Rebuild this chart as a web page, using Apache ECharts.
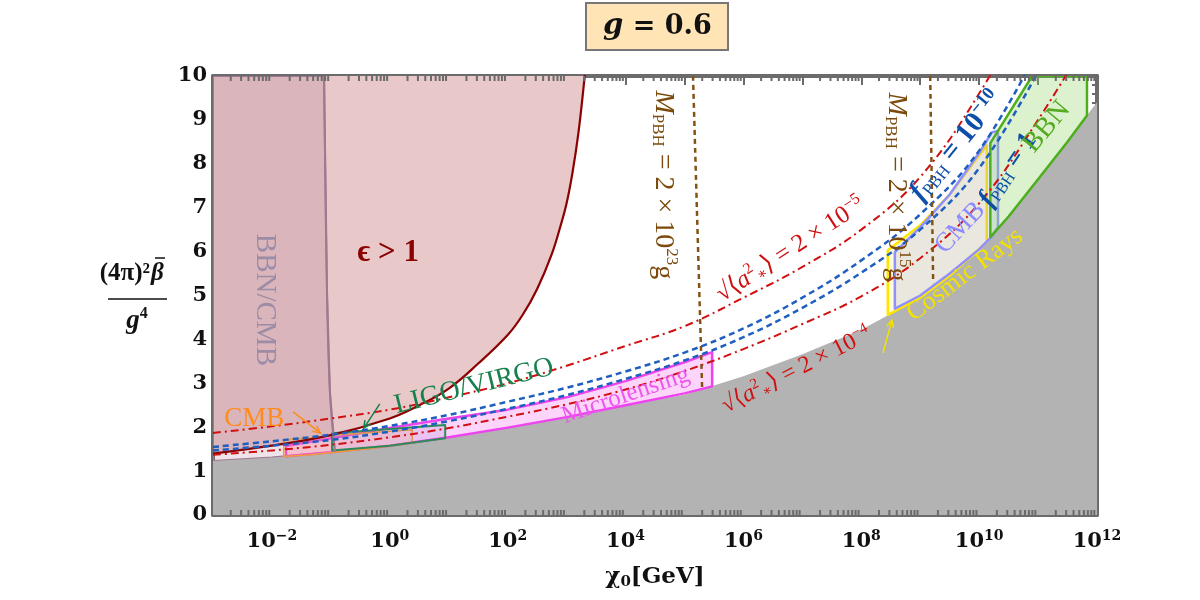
<!DOCTYPE html>
<html>
<head>
<meta charset="utf-8">
<script src="https://cdn.jsdelivr.net/npm/echarts@6/dist/echarts.min.js"></script>
<style>
  html, body { margin: 0; background: #fff; }
  #chart { width: 1200px; height: 600px; }
</style>
</head>
<body>
<div id="chart"></div>
<script>
const SERIF = '"Liberation Serif", "DejaVu Serif", serif';
const NUM = '"DejaVu Serif", "Liberation Serif", serif';

// x values are log10(chi0 / GeV)
const decades = [-3, -2, -1, 0, 1, 2, 3, 4, 5, 6, 7, 8, 9, 10, 11, 12];
const grayEdge = [1.23, 1.31, 1.42, 1.57, 1.76, 1.98, 2.22, 2.5, 2.74, 3.16, 3.66, 4.22, 4.95, 6.0, 7.65, 9.4];

// dash-dot (spin) and dashed (f_PBH) curves
const lineX = [-3, -2, -1, 0, 1, 2, 3, 4, 5, 6, 7, 8, 9, 10, 11];
const spin2e5 = [1.87, 2.02, 2.2, 2.4, 2.68, 3.0, 3.4, 3.85, 4.3, 4.95, 5.65, 6.5, 7.7, 9.6, 12.0];
const fpbh1e10 = [1.55, 1.68, 1.83, 2.03, 2.28, 2.58, 2.9, 3.27, 3.7, 4.25, 4.95, 5.8, 6.85, 8.3, 10.6];
const fpbh1 = [1.47, 1.58, 1.71, 1.9, 2.14, 2.42, 2.73, 3.1, 3.52, 4.05, 4.72, 5.52, 6.5, 7.9, 10.1];
const spin2e4 = [1.37, 1.47, 1.6, 1.77, 1.98, 2.24, 2.52, 2.86, 3.28, 3.78, 4.35, 4.98, 5.85, 7.1, 9.0, 11.2];

// epsilon > 1 boundary
const epsX = [-3, -2, -1, 0, 0.5, 1, 1.5, 2, 2.25, 2.5, 2.75, 2.9, 3.0, 3.1, 3.2, 3.3, 3.36];
const epsY = [1.4, 1.58, 1.82, 2.2, 2.5, 2.88, 3.45, 4.1, 4.55, 5.15, 5.95, 6.6, 7.1, 7.8, 8.7, 9.9, 10.7];

// BBN/CMB boundary (nearly vertical)
const bbnCmbX = [-1.116, -1.065, -1.015, -0.93];
const bbnCmbY = [10, 5.05, 2.78, 1.43];
const bbnCmbFloorX = [-3, -2, -1.5, -0.93];
const bbnCmbFloorY = [1.23, 1.31, 1.37, 1.43];

// microlensing band
const mlX = [-1.76, -1, 0, 1, 2, 3, 4, 5, 5.47];
const mlTop = [1.57, 1.75, 1.98, 2.2, 2.4, 2.68, 3.05, 3.48, 3.71];
const mlBot = [1.34, 1.43, 1.58, 1.77, 1.99, 2.23, 2.5, 2.77, 2.93];

// small CMB (orange) and LIGO/VIRGO boxes
const cmbLowX = [-1.8, -1.35, -0.93, -0.3, 0.38];
const cmbLowTop = [1.71, 1.76, 1.82, 1.88, 1.94];
const cmbLowBot = [1.33, 1.37, 1.43, 1.52, 1.64];
const ligoX = [-0.98, 0, 0.94];
const ligoTop = [1.86, 1.96, 2.05];
const ligoBot = [1.47, 1.58, 1.75];

// high-mass side: cosmic rays, CMB, BBN
const crX = [8.45, 9, 9.5, 10.13];
const crTop = [6.03, 6.6, 7.3, 8.42];
const crBot = [4.56, 4.95, 5.45, 6.22];
const cmbHiX = [8.57, 9, 9.5, 10, 10.22, 10.32];
const cmbHiTop = [5.99, 6.55, 7.3, 8.25, 8.72, 8.75];
const cmbHiBot = [4.7, 5.0, 5.5, 6.05, 6.35, 6.56];
const bbnX = [10.19, 10.9, 11.83];
const bbnTop = [8.47, 10, 10];
const bbnBotX = [10.19, 10.5, 11, 11.5, 11.83];
const bbnBot = [6.33, 6.8, 7.65, 8.5, 9.1];
const bbnRight = 9.16;

// M_PBH reference lines
const m23X = [5.145, 5.3];
const m23Y = [10, 2.87];
const m15X = [9.17, 9.22];
const m15Y = [10, 5.28];

// annotations: [x, y, rotationDeg, text, color, size, weight]
const labels = [
  [-2.12, 4.9, -90, '{t|BBN/CMB}', '#9d8ca6', 29, 'normal'],
  [-0.03, 5.97, 0, '{t|ϵ > 1}', '#8b0000', 31, 'bold'],
  [-2.3, 2.2, 0, '{t|CMB}', '#ff8c1a', 27, 'normal'],
  [1.43, 2.93, 14, '{t|LIGO/VIRGO}', '#18804c', 28, 'normal'],
  [4.0, 2.72, 19, '{t|Microlensing}', '#ee55ee', 25, 'normal'],
  [4.65, 7.52, -90, '{i|M}{sub|PBH}{t| = 2 × 10}{sup|23}{t|g}', '#7c4a0c', 28, 'normal'],
  [8.6, 7.47, -90, '{i|M}{sub|PBH}{t| = 2 × 10}{sup|15}{t|g}', '#7c4a0c', 28, 'normal'],
  [6.8, 6.04, 33, '{t|√⟨}{i|a}{sup|2}{sub|∗}{t|⟩ = 2 × 10}{sup|−5}', '#d01010', 25, 'normal'],
  [6.9, 3.3, 27, '{t|√⟨}{i|a}{sup|2}{sub|∗}{t|⟩ = 2 × 10}{sup|−4}', '#d01010', 24, 'normal'],
  [9.62, 8.4, 51, '{i|f}{sub|PBH}{t| = 10}{sup|−10}', '#0b4fa8', 29, 'bold'],
  [10.49, 7.86, 56, '{i|f}{sub|PBH}{t| = 1}', '#0b4fa8', 27, 'bold'],
  [9.68, 6.54, 47, '{t|CMB}', '#8c8cff', 27, 'normal'],
  [9.76, 5.47, 37, '{t|Cosmic Rays}', '#f2e200', 26, 'normal'],
  [11.15, 8.84, 50, '{t|BBN}', '#55aa22', 28, 'normal']
];

// arrows: [x0, y0, x1, y1, color]
const arrows = [
  [-1.64, 2.35, -1.18, 1.87, '#ff8c1a'],
  [-0.17, 2.53, -0.44, 1.98, '#18804c'],
  [8.37, 3.69, 8.52, 4.44, '#f2e200']
];

const pairs = (xs, ys) => xs.map((x, i) => [x, ys[i]]);

function band(name, xs, top, bot, fill, stroke, width, z) {
  const pts = pairs(xs, top).concat(pairs(xs, bot).reverse());
  return region(name, pts, fill, stroke, width, z);
}

function region(name, pts, fill, stroke, width, z) {
  return {
    name: name, type: 'custom', z: z, clip: true, silent: true,
    data: [pts[0]],
    renderItem: (params, api) => ({
      type: 'polygon',
      shape: { points: pts.map(p => api.coord(p)) },
      style: { fill: fill, stroke: stroke || 'none', lineWidth: width || 0, lineJoin: 'round' }
    })
  };
}

function curve(name, xs, ys, color, width, dash, z) {
  return {
    name: name, type: 'line', z: z, data: pairs(xs, ys), showSymbol: false,
    smooth: 0.4, clip: true, silent: true,
    lineStyle: { color: color, width: width, type: dash || 'solid' }
  };
}

function richStyles(color, size, weight) {
  const base = { fontFamily: SERIF, fontSize: size, fill: color, fontWeight: weight };
  return {
    t: Object.assign({}, base),
    i: Object.assign({}, base, { fontStyle: 'italic' }),
    sup: Object.assign({}, base, { fontSize: Math.round(size * 0.62), padding: [0, 0, Math.round(size * 0.55), 0] }),
    sub: Object.assign({}, base, { fontSize: Math.round(size * 0.6), fontWeight: 'normal', padding: [Math.round(size * 0.45), 0, 0, 0] })
  };
}

// minor x ticks at log10(2..9) inside each decade (axis decoration)
const minorTicks = [];
for (let d = -3; d < 12; d++) {
  for (let k = 2; k <= 9; k++) minorTicks.push(d + Math.log10(k));
}

const grayRegion = pairs(decades, grayEdge).concat([[12, 0], [-3, 0]]);
const epsRegion = pairs(epsX, epsY).concat([[-3, 10]]);
const bbnCmbRegion = pairs(bbnCmbFloorX, bbnCmbFloorY).concat(pairs(bbnCmbX, bbnCmbY).reverse(), [[-3, 10]]);
const bbnRegion = pairs(bbnX, bbnTop).concat([[11.83, bbnRight]], pairs(bbnBotX, bbnBot).reverse());

const axisColor = '#6b6b6b';
const xAxisBase = {
  type: 'value', min: -3, max: 12, interval: 1,
  axisLine: { show: true, onZero: false, lineStyle: { color: axisColor, width: 4 } },
  axisTick: { show: true, inside: true, length: 9, lineStyle: { color: axisColor, width: 2 } },
  splitLine: { show: false }
};
const yAxisBase = {
  type: 'value', min: 0, max: 10, interval: 1,
  axisLine: { show: true, onZero: false, lineStyle: { color: axisColor, width: 4 } },
  axisTick: { show: true, inside: true, length: 9, lineStyle: { color: axisColor, width: 2 } },
  minorTick: { show: true, splitNumber: 5, length: 5, lineStyle: { color: axisColor, width: 2 } },
  splitLine: { show: false }
};

const chart = echarts.init(document.getElementById('chart'));
chart.setOption({
  animation: false,
  backgroundColor: '#fff',
  title: {
    text: '{g|g} = 0.6',
    left: 586, top: 3,
    padding: [9, 17, 9, 17],
    backgroundColor: '#ffe4b5', borderColor: '#777', borderWidth: 2,
    textStyle: {
      fontFamily: NUM, fontSize: 27, fontWeight: 'bold', color: '#111',
      rich: { g: { fontFamily: NUM, fontSize: 29, fontWeight: 'bold', fontStyle: 'italic', color: '#111' } }
    }
  },
  grid: { left: 213, right: 103, top: 76, bottom: 85 },
  xAxis: [
    Object.assign({}, xAxisBase, {
      position: 'bottom',
      name: '{c|χ}{s|0}{c|[GeV]}', nameLocation: 'middle', nameGap: 50,
      nameTextStyle: {
        rich: {
          c: { fontFamily: NUM, fontSize: 23, fontWeight: 'bold', color: '#111' },
          s: { fontFamily: NUM, fontSize: 15, fontWeight: 'bold', color: '#111', padding: [10, 0, 0, 0] }
        }
      },
      axisLabel: {
        interval: 0, margin: 14,
        formatter: v => (v % 2 === 0 ? '{b|10}{s|' + String(v).replace('-', '−') + '}' : ''),
        rich: {
          b: { fontFamily: NUM, fontSize: 21, fontWeight: 'bold', color: '#111' },
          s: { fontFamily: NUM, fontSize: 14, fontWeight: 'bold', color: '#111', padding: [0, 0, 12, 0] }
        }
      }
    }),
    Object.assign({}, xAxisBase, { position: 'top', axisLabel: { show: false } })
  ],
  yAxis: [
    Object.assign({}, yAxisBase, {
      position: 'left',
      axisLabel: { margin: 6, fontFamily: NUM, fontSize: 21, fontWeight: 'bold', color: '#111' }
    }),
    Object.assign({}, yAxisBase, { position: 'right', axisLabel: { show: false } })
  ],
  graphic: [
    { type: 'text', x: 150, y: 274, style: { text: '(4π)²', fontFamily: SERIF, fontSize: 25, fontWeight: 'bold', fill: '#111', align: 'right', verticalAlign: 'middle' } },
    { type: 'text', x: 151, y: 274, style: { text: 'β', fontFamily: SERIF, fontSize: 25, fontWeight: 'bold', fontStyle: 'italic', fill: '#111', align: 'left', verticalAlign: 'middle' } },
    { type: 'line', shape: { x1: 155, y1: 258, x2: 165, y2: 258 }, style: { stroke: '#111', lineWidth: 1.5 } },
    { type: 'line', shape: { x1: 108, y1: 299, x2: 167, y2: 299 }, style: { stroke: '#111', lineWidth: 1.5 } },
    { type: 'text', x: 137, y: 321, style: { text: '{g|g}{s|4}', align: 'center', verticalAlign: 'middle',
      rich: {
        g: { fontFamily: SERIF, fontSize: 27, fontWeight: 'bold', fontStyle: 'italic', fill: '#111' },
        s: { fontFamily: SERIF, fontSize: 16, fontWeight: 'bold', fill: '#111', padding: [0, 0, 14, 0] }
      } } }
  ],
  series: [
    region('epsilon > 1', epsRegion, '#e8c8c8', null, 0, 1),
    region('BBN/CMB', bbnCmbRegion, 'rgba(150,90,125,0.16)', '#a07890', 2, 2),
    region('excluded', grayRegion, '#b3b3b3', null, 0, 3),
    band('Microlensing', mlX, mlTop, mlBot, 'rgba(250,150,245,0.4)', '#ee44ee', 2.5, 4),
    band('CMB low', cmbLowX, cmbLowTop, cmbLowBot, 'rgba(255,170,60,0.18)', '#f0a030', 1.5, 5),
    band('LIGO/VIRGO', ligoX, ligoTop, ligoBot, 'rgba(120,100,200,0.15)', '#2e8b57', 2, 5),
    band('Cosmic Rays', crX, crTop, crBot, 'rgba(255,240,60,0.2)', '#ffe600', 2.5, 4),
    band('CMB high', cmbHiX, cmbHiTop, cmbHiBot, 'rgba(140,140,255,0.18)', '#9090ff', 2.5, 5),
    region('BBN', bbnRegion, 'rgba(140,210,90,0.3)', '#4caf1c', 2.5, 5),
    curve('epsilon edge', epsX, epsY, '#8b0000', 2.2, 'solid', 8),
    curve('BBN/CMB edge', bbnCmbX, bbnCmbY, '#a07890', 2, 'solid', 8),
    curve('a=2e-5', lineX, spin2e5, '#d01010', 2, [8, 4, 2, 4], 9),
    curve('f=1e-10', lineX, fpbh1e10, '#1f5fc0', 2.5, [6, 4], 9),
    curve('f=1', lineX, fpbh1, '#1f5fc0', 2.5, [6, 4], 9),
    curve('a=2e-4', decades, spin2e4, '#d01010', 2, [8, 4, 2, 4], 9),
    curve('M=2e23', m23X, m23Y, '#845214', 2.5, [5, 4], 10),
    curve('M=2e15', m15X, m15Y, '#845214', 2.5, [5, 4], 10),
    {
      name: 'arrows', type: 'custom', z: 11, silent: true, clip: false,
      data: arrows.map((a, i) => [a[0], a[1], i]),
      renderItem: (params, api) => {
        const a = arrows[params.dataIndex];
        const p0 = api.coord([a[0], a[1]]);
        const p1 = api.coord([a[2], a[3]]);
        const ang = Math.atan2(p1[1] - p0[1], p1[0] - p0[0]);
        const h = 8;
        const w1 = [p1[0] - h * Math.cos(ang - 0.45), p1[1] - h * Math.sin(ang - 0.45)];
        const w2 = [p1[0] - h * Math.cos(ang + 0.45), p1[1] - h * Math.sin(ang + 0.45)];
        return {
          type: 'group',
          children: [
            { type: 'line', shape: { x1: p0[0], y1: p0[1], x2: p1[0], y2: p1[1] }, style: { stroke: a[4], lineWidth: 1.5 } },
            { type: 'polyline', shape: { points: [w1, p1, w2] }, style: { stroke: a[4], lineWidth: 1.5, fill: 'none' } }
          ]
        };
      }
    },
    {
      name: 'labels', type: 'custom', z: 12, silent: true, clip: false,
      data: labels.map((l, i) => [l[0], l[1], i]),
      renderItem: (params, api) => {
        const l = labels[params.dataIndex];
        const p = api.coord([l[0], l[1]]);
        return {
          type: 'text', x: p[0], y: p[1], rotation: l[2] * Math.PI / 180,
          style: { text: l[3], align: 'center', verticalAlign: 'middle', rich: richStyles(l[4], l[5], l[6]) }
        };
      }
    },
    {
      name: 'minor ticks', type: 'custom', z: 13, silent: true, clip: false,
      data: minorTicks.map(v => [v, 0]),
      renderItem: (params, api) => {
        const b = api.coord([api.value(0), 0]);
        const t = api.coord([api.value(0), 10]);
        return {
          type: 'group',
          children: [
            { type: 'line', shape: { x1: b[0], y1: b[1], x2: b[0], y2: b[1] - 5 }, style: { stroke: axisColor, lineWidth: 2 } },
            { type: 'line', shape: { x1: t[0], y1: t[1], x2: t[0], y2: t[1] + 5 }, style: { stroke: axisColor, lineWidth: 2 } }
          ]
        };
      }
    }
  ]
});
</script>
</body>
</html>
